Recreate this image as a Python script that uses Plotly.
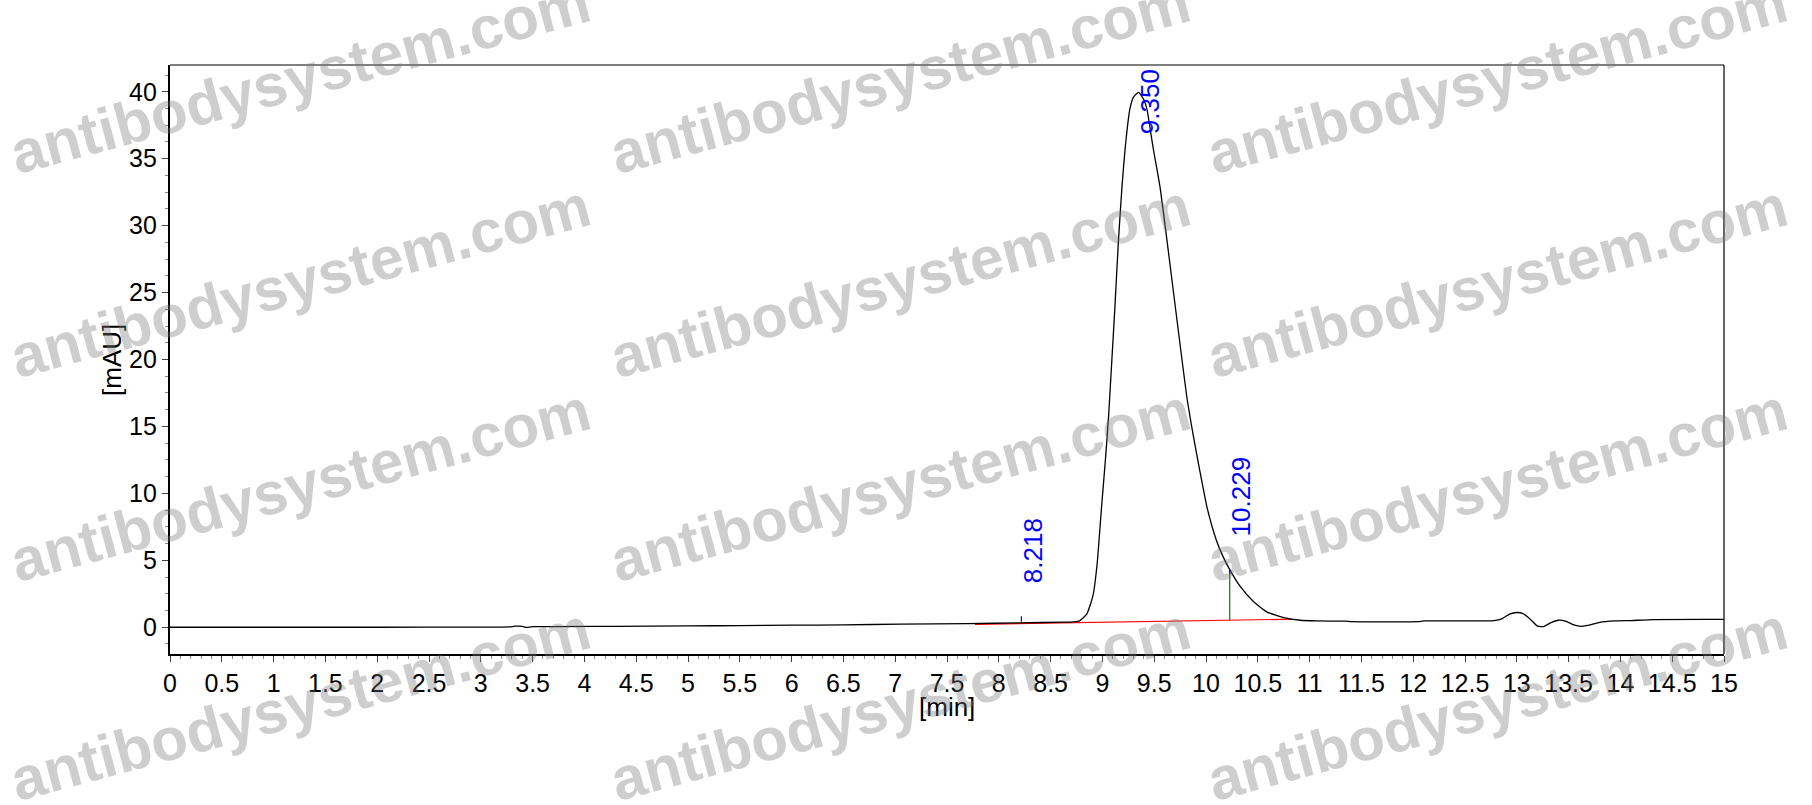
"""HPLC chromatogram (SEC) — antibodysystem.com style plot."""

import plotly.graph_objects as go

# ---------------------------------------------------------------------------
# Data
# ---------------------------------------------------------------------------

# detector signal, [min] vs [mAU]
time_min = [
    0.00, 1.00, 2.00, 3.00, 3.28, 3.33, 3.40, 3.44, 3.50, 4.30,
    5.00, 5.50, 6.00, 6.50, 7.05, 7.70, 8.20, 8.65, 8.72, 8.78,
    8.85, 8.91, 8.95, 8.99, 9.03, 9.06, 9.09, 9.12, 9.155, 9.19,
    9.22, 9.265, 9.30, 9.35, 9.40, 9.43, 9.49, 9.556, 9.62, 9.685,
    9.75, 9.815, 9.88, 9.94, 10.01, 10.10, 10.16, 10.229, 10.33, 10.46,
    10.585, 10.75, 10.91, 11.07, 11.35, 11.40, 12.05, 12.10, 12.78, 12.86,
    12.93, 13.00, 13.06, 13.13, 13.20, 13.26, 13.33, 13.40, 13.47, 13.55,
    13.62, 13.70, 13.80, 13.95, 14.10, 14.32, 15.00,
]
signal_mau = [
    0.00, 0.00, 0.00, 0.01, 0.02, 0.08, 0.07, -0.01, 0.04, 0.07,
    0.10, 0.12, 0.15, 0.18, 0.23, 0.27, 0.33, 0.38, 0.40, 0.48,
    1.00, 2.40, 4.80, 8.80, 12.6, 15.8, 19.8, 23.8, 28.9, 33.0,
    35.8, 38.7, 39.6, 39.95, 39.4, 38.7, 35.8, 32.9, 29.1, 25.1,
    21.1, 17.2, 14.2, 11.7, 8.95, 6.5, 5.35, 4.30, 3.05, 1.90,
    1.15, 0.72, 0.52, 0.47, 0.45, 0.42, 0.42, 0.47, 0.50, 0.65,
    0.98, 1.10, 1.02, 0.60, 0.08, 0.05, 0.35, 0.52, 0.46, 0.18,
    0.07, 0.15, 0.36, 0.47, 0.50, 0.57, 0.58,
]

# integration baseline (red)
baseline_t = [7.77, 10.83]
baseline_y = [0.22, 0.60]

# peak retention times and the height the label sits on
peak_labels = ['8.218', '9.350', '10.229']
peak_t = [8.218, 9.350, 10.229]
peak_y = [0.82, 39.95, 4.30]

# peak delimiter marks
drop_t = [10.229, 10.229]
drop_y = [0.53, 4.30]
mark_a_t = [8.218, 8.218]
mark_a_y = [0.40, 0.82]
mark_b_t = [10.229, 10.229]
mark_b_y = [4.00, 4.33]

x_tick_vals = [0, 0.5, 1, 1.5, 2, 2.5, 3, 3.5, 4, 4.5, 5, 5.5, 6, 6.5, 7,
               7.5, 8, 8.5, 9, 9.5, 10, 10.5, 11, 11.5, 12, 12.5, 13, 13.5,
               14, 14.5, 15]
x_tick_text = ['0', '0.5', '1', '1.5', '2', '2.5', '3', '3.5', '4', '4.5',
               '5', '5.5', '6', '6.5', '7', '7.5', '8', '8.5', '9', '9.5',
               '10', '10.5', '11', '11.5', '12', '12.5', '13', '13.5', '14',
               '14.5', '15']
y_tick_vals = [0, 5, 10, 15, 20, 25, 30, 35, 40]
y_tick_text = ['0', '5', '10', '15', '20', '25', '30', '35', '40']

# watermark grid (pixel centres on the 1812x805 canvas)
wm_x_px = [300, 900, 1497]
wm_y_px = [78, 281, 485, 704]

# ---------------------------------------------------------------------------
# Layout constants
# ---------------------------------------------------------------------------

_FONT = 'Arial, Liberation Sans, sans-serif'
W, H = 1812, 805
ML, MR, MT, MB = 170, 88, 65, 151
PW, PH = W - ML - MR, H - MT - MB


def _px_to_paper(px, py):
    return (px - ML) / PW, (H - MB - py) / PH


fig = go.Figure()

fig.add_trace(go.Scatter(
    x=baseline_t, y=baseline_y, mode='lines',
    line=dict(color='rgb(255, 0, 0)', width=1.2),
    hoverinfo='skip',
))
fig.add_trace(go.Scatter(
    x=time_min, y=signal_mau, mode='lines',
    line=dict(color='black', width=1.3, shape='spline', smoothing=0.5),
    name='signal',
))
fig.add_trace(go.Scatter(
    x=drop_t, y=drop_y, mode='lines',
    line=dict(color='rgb(0, 128, 0)', width=1.2),
    hoverinfo='skip',
))
for mt, my in ((mark_a_t, mark_a_y), (mark_b_t, mark_b_y)):
    fig.add_trace(go.Scatter(
        x=mt, y=my, mode='lines',
        line=dict(color='rgb(0, 0, 255)', width=1.2),
        hoverinfo='skip',
    ))

# peak labels, rotated, to the right of the mark
for i, (lab, t, h) in enumerate(zip(peak_labels, peak_t, peak_y)):
    if i == 1:
        # the main peak label is pushed down to stay inside the frame
        fig.add_annotation(x=t, y=1, xref='x', yref='paper', text=lab,
                           textangle=-90, showarrow=False,
                           xanchor='center', yanchor='top',
                           xshift=11, yshift=-2,
                           font=dict(family=_FONT, size=26, color='rgb(0, 0, 255)'))
    else:
        fig.add_annotation(x=t, y=h, text=lab, textangle=-90, showarrow=False,
                           xanchor='center', yanchor='bottom',
                           xshift=11, yshift=31,
                           font=dict(family=_FONT, size=26, color='rgb(0, 0, 255)'))

# axis titles
tx, ty = _px_to_paper(947, 707)
fig.add_annotation(x=tx, y=ty, xref='paper', yref='paper', text='[min]',
                   showarrow=False, xanchor='center', yanchor='middle',
                   font=dict(family=_FONT, size=26, color='black'))
tx, ty = _px_to_paper(112, 360)
fig.add_annotation(x=tx, y=ty, xref='paper', yref='paper', text='[mAU]',
                   textangle=-90, showarrow=False, xanchor='center', yanchor='middle',
                   font=dict(family=_FONT, size=26, color='black'))

# watermark
for wy in wm_y_px:
    for wx in wm_x_px:
        px, py = _px_to_paper(wx, wy)
        fig.add_annotation(x=px, y=py, xref='paper', yref='paper',
                           text='<b>antibodysystem.com</b>', textangle=-15,
                           showarrow=False, xanchor='center', yanchor='middle',
                           font=dict(family=_FONT, size=60,
                                     color='rgba(120, 120, 120, 0.36)'))

# thin top / right frame
fig.add_shape(type='line', xref='paper', yref='paper', x0=0, x1=1, y0=1, y1=1,
              line=dict(color='black', width=1.2))
fig.add_shape(type='line', xref='paper', yref='paper', x0=1, x1=1, y0=0, y1=1,
              line=dict(color='black', width=1.2))

fig.update_layout(
    width=W, height=H,
    margin=dict(l=ML, r=MR, t=MT, b=MB, pad=0),
    paper_bgcolor='white', plot_bgcolor='white',
    showlegend=False,
    font=dict(family=_FONT, size=25, color='black'),
    xaxis=dict(
        range=[0, 15], tickmode='array', tickvals=x_tick_vals, ticktext=x_tick_text,
        showgrid=False, zeroline=False, showline=True, linecolor='black', linewidth=2.2,
        ticks='outside', ticklen=6, tickwidth=1, tickcolor='#444',
        tickfont=dict(family=_FONT, size=25, color='black'),
        minor=dict(tickmode='linear', tick0=0, dtick=0.1, ticks='outside',
                   ticklen=3, tickcolor='#888', tickwidth=1),
    ),
    yaxis=dict(
        range=[-2, 42], tickmode='array', tickvals=y_tick_vals, ticktext=y_tick_text,
        showgrid=False, zeroline=False, showline=True, linecolor='black', linewidth=2.2,
        ticks='outside', ticklen=6, tickwidth=1, tickcolor='#444',
        tickfont=dict(family=_FONT, size=25, color='black'),
        minor=dict(tickmode='linear', tick0=0, dtick=1.25, ticks='outside',
                   ticklen=3, tickcolor='#888', tickwidth=1),
    ),
)

fig.write_html("out.html", config={'displayModeBar': False},
               post_script="document.body.style.margin='0';")
